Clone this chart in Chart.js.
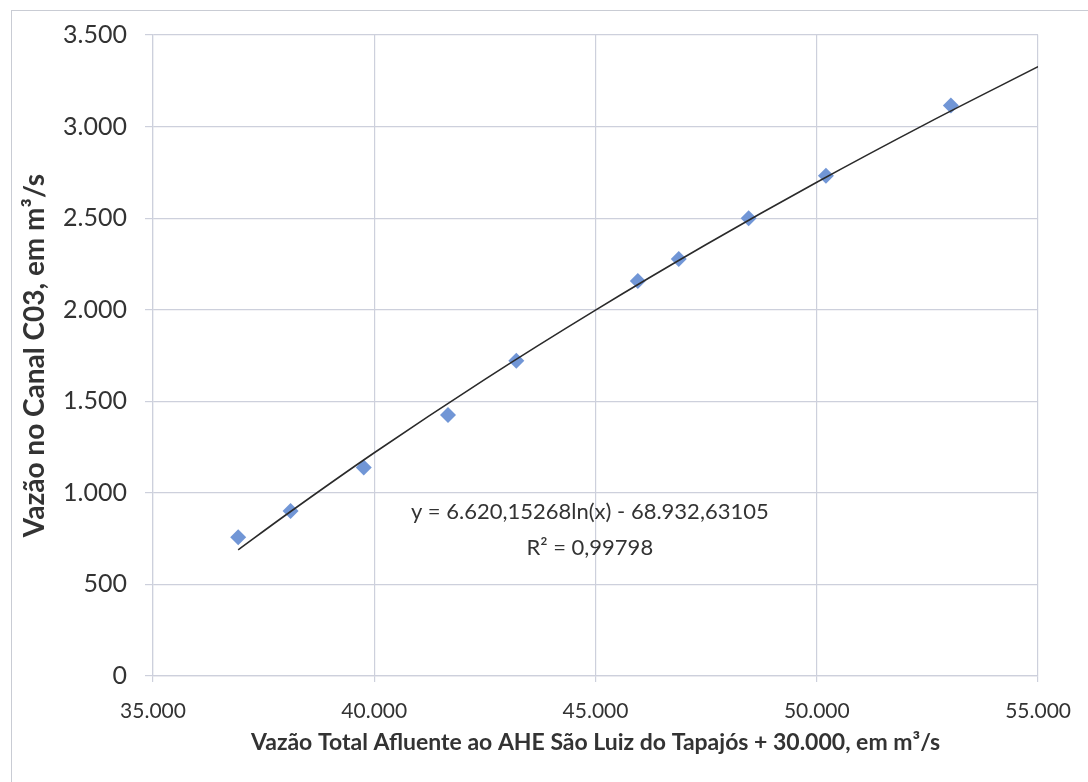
<!DOCTYPE html>
<html>
<head>
<meta charset="utf-8">
<script src="https://cdn.jsdelivr.net/npm/chart.js@4.4.1/dist/chart.umd.min.js"></script>
<style>
    html, body { margin: 0; padding: 0; background: #fff; }
    #wrap { position: relative; width: 1088px; height: 782px; }
    #frame {
        position: absolute; left: 11px; top: 10px; width: 1090px; height: 800px;
        border: 1.5px solid #c9ccd4; box-sizing: border-box;
    }
    canvas { position: absolute; left: 0; top: 0; }
</style>
</head>
<body>
<div id="wrap">
    <div id="frame"></div>
    <canvas id="chart" width="1088" height="782"></canvas>
</div>
<script>
// medições (vazão afluente total vs vazão no canal C03)
const flowTotal = [36925, 38108, 39763, 41666, 43210, 45955, 46880, 48460, 50207, 53029];
const flowC03 = [757, 901, 1138, 1425, 1722, 2157, 2277, 2500, 2731, 3115];

// linha de tendência logarítmica
const trendX = [36925, 38000, 40000, 42500, 45000, 47500, 50000, 52500, 55000];
const trendY = [689, 879, 1219, 1620, 1998, 2356, 2696, 3019, 3327];

const equationText = 'y = 6.620,15268ln(x) - 68.932,63105';
const r2Text = 'R² = 0,99798';

const fontFamily = 'Lato, "Open Sans", sans-serif';
const gridColor = '#cdd0dc';

const fmt = v => v.toLocaleString('pt-BR');

// texto da equação, ancorado em coordenadas de dados
const equationLabel = {
    id: 'equationLabel',
    afterDatasetsDraw(chart) {
        const ctx = chart.ctx;
        const x = chart.scales.x.getPixelForValue(44870);
        const y = chart.scales.y.getPixelForValue(895);
        ctx.save();
        ctx.fillStyle = '#333';
        ctx.font = '22px ' + fontFamily;
        ctx.textAlign = 'center';
        ctx.textBaseline = 'middle';
        ctx.fillText(equationText, x, y);
        ctx.fillText(r2Text, x, y + 36);
        ctx.restore();
    }
};

const points = flowTotal.map((x, i) => ({ x: x, y: flowC03[i] }));
const trend = trendX.map((x, i) => ({ x: x, y: trendY[i] }));

new Chart(document.getElementById('chart').getContext('2d'), {
    type: 'scatter',
    data: {
        datasets: [
            {
                label: 'Tendência',
                type: 'line',
                data: trend,
                borderColor: '#2a2a2a',
                borderWidth: 1.6,
                pointRadius: 0,
                fill: false,
                cubicInterpolationMode: 'monotone'
            },
            {
                label: 'Vazão C03',
                data: points,
                pointStyle: 'rectRot',
                pointRadius: 8,
                pointHoverRadius: 8,
                backgroundColor: '#7196d6',
                borderColor: '#7196d6',
                borderWidth: 0
            }
        ]
    },
    plugins: [equationLabel],
    options: {
        responsive: false,
        animation: false,
        layout: { padding: { left: 14, right: 49, top: 35, bottom: 22 } },
        plugins: {
            legend: { display: false },
            tooltip: { enabled: false }
        },
        scales: {
            x: {
                type: 'linear',
                min: 35000,
                max: 55000,
                ticks: {
                    stepSize: 5000,
                    color: '#333',
                    font: { family: fontFamily, size: 21 },
                    padding: 17,
                    maxRotation: 0,
                    callback: v => fmt(v)
                },
                grid: { color: gridColor, lineWidth: 1.2, tickLength: 6 },
                border: { color: gridColor, width: 1.2 },
                title: {
                    display: true,
                    text: 'Vazão Total Afluente ao AHE São Luiz do Tapajós + 30.000, em m³/s',
                    color: '#333',
                    font: { family: fontFamily, size: 23, weight: 'bold' },
                    padding: { top: 2 }
                },
                afterFit: s => { s.height = 84; }
            },
            y: {
                type: 'linear',
                min: 0,
                max: 3500,
                ticks: {
                    stepSize: 500,
                    color: '#333',
                    font: { family: fontFamily, size: 25 },
                    padding: 18,
                    callback: v => fmt(v)
                },
                grid: { color: gridColor, lineWidth: 1.2, tickLength: 8 },
                border: { color: gridColor, width: 1.2 },
                title: {
                    display: true,
                    text: 'Vazão no Canal C03, em m³/s',
                    color: '#333',
                    font: { family: fontFamily, size: 28, weight: 'bold' },
                    padding: { bottom: 4 }
                },
                afterFit: s => { s.width = 139; }
            }
        }
    }
});
</script>
</body>
</html>
